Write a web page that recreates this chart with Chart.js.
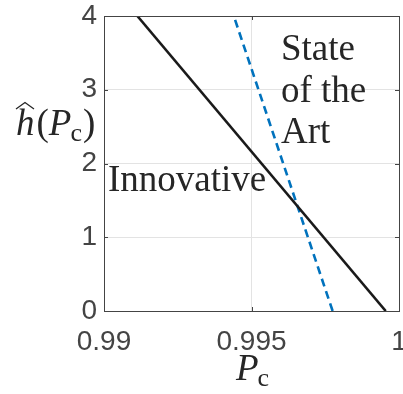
<!DOCTYPE html>
<html><head><meta charset="utf-8">
<script src="https://cdn.jsdelivr.net/npm/chart.js@4"></script>
<style>html,body{margin:0;padding:0;background:#fff;}canvas{display:block;}</style>
</head><body>
<canvas id="c" width="403" height="394"></canvas>
<script>
// ---- data ----
const pcInnovative = [0.99113, 0.99955];
const hInnovative = [4, 0];
const pcStateArt = [0.99775, 0.9944];
const hStateArt = [0, 4];
const xTickValues = [0.99, 0.995, 1];
const xTickLabels = ['0.99', '0.995', '1'];
const yTickValues = [0, 1, 2, 3, 4];
const yTickLabels = ['0', '1', '2', '3', '4'];
const labelInnovative = 'Innovative';
const labelStateArt = ['State', 'of the', 'Art'];

const toPts = (xs, ys) => xs.map((x, i) => ({x: x, y: ys[i]}));
const AX = '#444444';

const decor = {
  id: 'decor',
  afterDatasetsDraw(chart) {
    const ctx = chart.ctx, a = chart.chartArea;
    const xs = chart.scales.x, ys = chart.scales.y;
    ctx.save();
    ctx.strokeStyle = AX; ctx.lineWidth = 1;
    // inward ticks
    ctx.beginPath();
    xTickValues.forEach(v => {
      const px = Math.round(xs.getPixelForValue(v)) + 0.5;
      ctx.moveTo(px, a.bottom); ctx.lineTo(px, a.bottom - 4);
      ctx.moveTo(px, a.top); ctx.lineTo(px, a.top + 4);
    });
    yTickValues.forEach(v => {
      const py = Math.round(ys.getPixelForValue(v)) + 0.5;
      ctx.moveTo(a.left, py); ctx.lineTo(a.left + 4, py);
      ctx.moveTo(a.right, py); ctx.lineTo(a.right - 4, py);
    });
    ctx.stroke();
    // frame
    ctx.strokeRect(Math.round(a.left) + 0.5, Math.round(a.top) + 0.5,
                   Math.round(a.right - a.left), Math.round(a.bottom - a.top));
    // annotations
    ctx.fillStyle = '#262626';
    ctx.font = '37px "Liberation Serif"';
    ctx.textBaseline = 'alphabetic';
    ctx.textAlign = 'left';
    ctx.fillText(labelInnovative, 108, 191);
    labelStateArt.forEach((t, i) => ctx.fillText(t, 281, 60 + i * 41.5));
    // y axis label: h-hat(P_c)
    let x = 16; const yb = 135;
    ctx.font = 'italic 37px "Liberation Serif"';
    ctx.fillText('h', x, yb);
    const hw = ctx.measureText('h').width;
    ctx.beginPath();
    ctx.lineWidth = 1.3; ctx.strokeStyle = '#262626';
    ctx.moveTo(x + 0, 109); ctx.lineTo(x + 9, 102.5); ctx.lineTo(x + 18, 109);
    ctx.stroke();
    x += hw + 2;
    ctx.font = '37px "Liberation Serif"';
    ctx.fillText('(', x, yb); x += ctx.measureText('(').width;
    ctx.font = 'italic 37px "Liberation Serif"';
    ctx.fillText('P', x, yb); x += ctx.measureText('P').width - 1;
    ctx.font = '26px "Liberation Serif"';
    ctx.fillText('c', x, yb + 6); x += ctx.measureText('c').width + 1;
    ctx.font = '37px "Liberation Serif"';
    ctx.fillText(')', x, yb);
    // x axis label
    ctx.font = 'italic 37px "Liberation Serif"';
    ctx.fillText('P', 236, 380);
    const pw = ctx.measureText('P').width;
    ctx.font = '26px "Liberation Serif"';
    ctx.fillText('c', 236 + pw - 1, 386);
    ctx.restore();
  }
};

new Chart(document.getElementById('c'), {
  type: 'scatter',
  data: {
    datasets: [
      { data: toPts(pcInnovative, hInnovative), showLine: true, borderColor: '#1a1a1a',
        borderWidth: 2.6, pointRadius: 0, fill: false, tension: 0 },
      { data: toPts(pcStateArt, hStateArt), showLine: true, borderColor: '#0072BD',
        borderWidth: 2.6, borderDash: [8, 5], pointRadius: 0, fill: false, tension: 0 }
    ]
  },
  options: {
    responsive: false, devicePixelRatio: 1, animation: false,
    layout: { padding: { top: 16, right: 4, left: 0, bottom: 0 } },
    plugins: { legend: { display: false }, tooltip: { enabled: false } },
    scales: {
      x: {
        type: 'linear', min: 0.99, max: 1,
        afterBuildTicks: s => { s.ticks = xTickValues.map(v => ({value: v})); },
        afterFit: s => { s.height = 83; s.paddingLeft = 0; s.paddingRight = 0; },
        border: { display: false },
        grid: { color: '#e3e3e3', lineWidth: 1, drawTicks: false },
        ticks: { color: AX, font: { family: '"Liberation Sans"', size: 28 }, padding: 14,
                 maxRotation: 0, autoSkip: false,
                 callback: v => xTickLabels[xTickValues.indexOf(v)] }
      },
      y: {
        type: 'linear', min: 0, max: 4,
        afterBuildTicks: s => { s.ticks = yTickValues.map(v => ({value: v})); },
        afterFit: s => { s.width = 104; s.paddingTop = 0; s.paddingBottom = 0; },
        border: { display: false },
        grid: { color: '#e3e3e3', lineWidth: 1, drawTicks: false },
        ticks: { color: AX, font: { family: '"Liberation Sans"', size: 28 }, padding: 7,
                 autoSkip: false,
                 callback: v => yTickLabels[yTickValues.indexOf(v)] }
      }
    }
  },
  plugins: [decor]
});
</script>
</body></html>
